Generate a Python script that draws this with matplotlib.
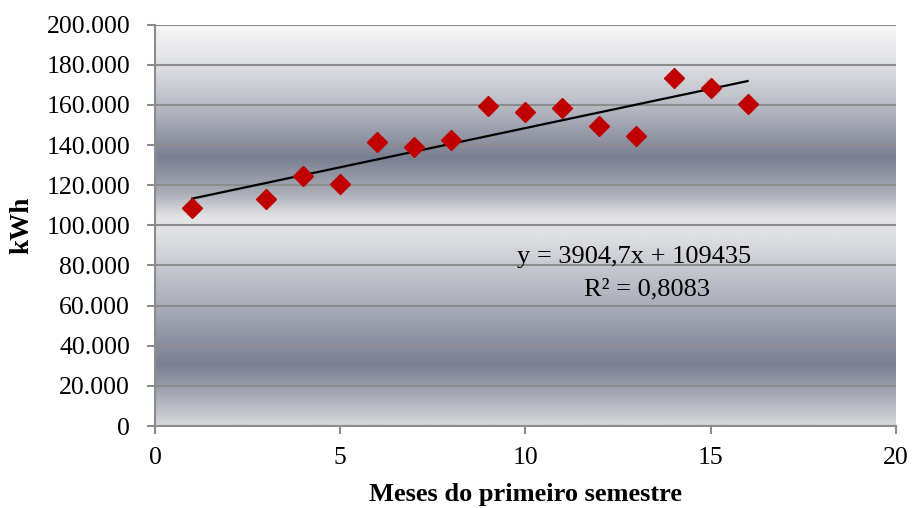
import numpy as np
import matplotlib
matplotlib.use("Agg")
import matplotlib.pyplot as plt
from matplotlib.colors import LinearSegmentedColormap
from matplotlib.ticker import FuncFormatter

# data
meses = [1, 3, 4, 5, 6, 7, 8, 9, 10, 11, 12, 13, 14, 15, 16]
consumo = [108700, 113200, 124700, 120700, 141600, 139200, 142600, 159600,
           156600, 158600, 149600, 144600, 173600, 168600, 160600]
slope = 3904.7
intercept = 109435
eq_text = "y = 3904,7x + 109435"
r2_text = "R\u00b2 = 0,8083"

plt.rcParams["font.family"] = ["Liberation Serif", "DejaVu Serif"]

fig = plt.figure(figsize=(9.13, 5.08), dpi=100)
ax = fig.add_axes([0.17, 0.1614, 0.811, 0.79])

# gradient background (Excel style silver bands)
stops = [
    (0.00, (247, 247, 247)),
    (0.10, (222, 223, 227)),
    (0.20, (185, 188, 197)),
    (0.33, (122, 127, 145)),
    (0.42, (170, 173, 183)),
    (0.48, (228, 228, 230)),
    (0.52, (225, 226, 229)),
    (0.60, (200, 202, 209)),
    (0.70, (170, 173, 185)),
    (0.85, (122, 127, 145)),
    (0.93, (170, 173, 183)),
    (1.00, (215, 216, 220)),
]
cmap = LinearSegmentedColormap.from_list(
    "silver", [(p, tuple(c / 255 for c in rgb)) for p, rgb in stops])
grad = np.linspace(0, 1, 400).reshape(-1, 1)
ax.imshow(grad, cmap=cmap, aspect="auto", extent=[0, 1, 0, 1],
          transform=ax.transAxes, zorder=0, interpolation="bilinear")

ax.set_xlim(0, 20)
ax.set_ylim(0, 200000)
ax.set_xticks(range(0, 21, 5))
ax.set_yticks(range(0, 200001, 20000))
ax.yaxis.set_major_formatter(FuncFormatter(lambda v, p: f"{int(v):,}".replace(",", ".")))

ax.grid(axis="y", color="#8c8c8c", linewidth=1.5, zorder=1)
ax.set_axisbelow(True)

for side in ["top", "right"]:
    ax.spines[side].set_visible(False)
for side in ["left", "bottom"]:
    ax.spines[side].set_color("#8c8c8c")
    ax.spines[side].set_linewidth(1.5)

ax.tick_params(axis="both", colors="#8c8c8c", labelcolor="black",
               labelsize=18.5, length=6, width=1.5)
ax.tick_params(axis="y", pad=12)
ax.tick_params(axis="x", pad=9)

# trend line
xs = np.array([meses[0], meses[-1]])
ax.plot(xs, slope * xs + intercept, color="black", linewidth=1.6, zorder=3)

ax.plot(meses, consumo, linestyle="none", marker="D", markersize=10.5,
        color="#c00000", zorder=4, clip_on=False)

ax.text(12.93, 84300, eq_text, ha="center", va="center", fontsize=19, zorder=5)
ax.text(13.28, 68300, r2_text, ha="center", va="center", fontsize=19, zorder=5)

ax.set_xlabel("Meses do primeiro semestre", fontsize=19, fontweight="bold", labelpad=10)
ax.set_ylabel("kWh", fontsize=19.5, fontweight="bold", labelpad=9)

fig.savefig("out.png", dpi=100)
